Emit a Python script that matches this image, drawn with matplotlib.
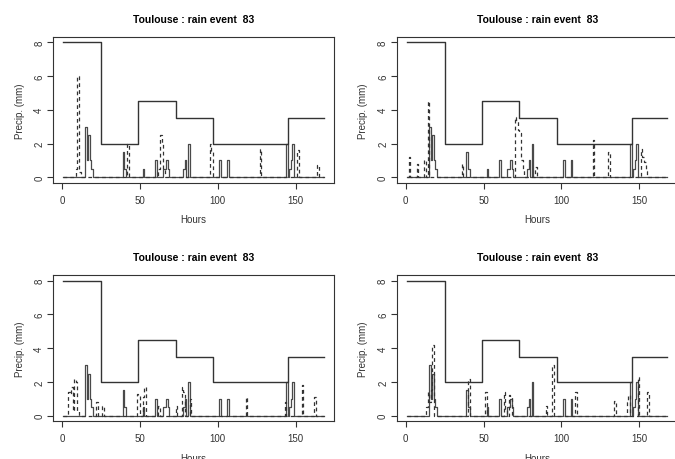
import numpy as np
import matplotlib.pyplot as plt

plt.rcParams['font.family'] = ['Liberation Sans', 'DejaVu Sans']

# daily totals (mm), one value per day, held for 24 hours each
day_vals = [8, 2, 4.5, 3.5, 2, 2, 3.5]

# observed hourly rain (only the wet hours)
obs_hours = [15, 16, 17, 18, 19, 39, 40, 52, 60, 65, 66, 67, 68, 78, 79, 81,
             101, 106, 144, 146, 147, 148]
obs_vals = [3.0, 1.0, 2.5, 1.0, 0.5, 1.5, 0.5, 0.5, 1.0, 0.5, 0.5, 1.0, 0.5,
            0.5, 1.0, 2.0, 1.0, 1.0, 2.0, 0.5, 1.0, 2.0]

# disaggregated (simulated) hourly rain, one per panel
sim1_hours = [9, 10, 11, 42, 62, 63, 64, 65, 95, 96, 127, 151, 164]
sim1_vals = [0.5, 6.0, 0.3, 2.0, 0.5, 2.5, 2.0, 0.5, 2.0, 1.5, 1.7, 1.6, 0.7]

sim2_hours = [2, 7, 12, 14, 36, 70, 71, 72, 73, 74, 75, 83, 120, 130,
              151, 152, 153, 154]
sim2_vals = [1.2, 0.8, 1.0, 4.5, 0.8, 3.6, 3.4, 2.8, 2.6, 1.0, 0.5, 0.6, 2.2,
             1.5, 1.7, 1.2, 0.9, 0.4]

sim3_hours = [4, 5, 6, 7, 8, 9, 10, 22, 26, 48, 49, 52, 53, 62, 73, 77, 78,
              82, 118, 143, 154, 162]
sim3_vals = [1.4, 1.3, 1.7, 0.3, 2.2, 2.0, 0.3, 0.8, 0.6, 1.3, 1.2, 1.1, 1.7,
             0.6, 0.6, 1.7, 1.4, 1.0, 1.1, 0.8, 1.8, 1.1]

sim4_hours = [13, 14, 15, 16, 17, 40, 51, 63, 64, 66, 67, 90, 94, 109, 134,
              142, 143, 149, 155]
sim4_vals = [0.5, 1.4, 0.8, 1.5, 4.2, 2.2, 1.4, 1.4, 0.4, 1.2, 1.1, 0.6, 3.0,
             1.4, 0.9, 0.8, 1.2, 2.3, 1.4]

hours = np.arange(1, 169)


def hourly(h, v):
    s = np.zeros(len(hours))
    s[np.array(h) - 1] = v
    return s


daily = np.repeat(day_vals, 24)
obs = hourly(obs_hours, obs_vals)
sims = [hourly(sim1_hours, sim1_vals), hourly(sim2_hours, sim2_vals),
        hourly(sim3_hours, sim3_vals), hourly(sim4_hours, sim4_vals)]

fig = plt.figure(figsize=(6.75, 4.6), dpi=100)
fig.patch.set_facecolor('white')

# axes boxes in figure fractions (left, bottom)
w, h = 0.4163, 0.317
positions = [(0.0785, 0.6007), (0.5879, 0.6007), (0.0785, 0.0824), (0.5879, 0.0824)]

for (l, b), sim in zip(positions, sims):
    ax = fig.add_axes([l, b, w, h])
    ax.step(hours, obs, where='post', color='#4a4a4a', lw=0.9)
    ax.step(hours, sim, where='post', color='#333333', lw=0.9,
            linestyle=(0, (3, 2.5)))
    ax.step(hours, daily, where='post', color='#333333', lw=1.0)

    ax.set_xlim(-5.7, 174.7)
    ax.set_ylim(-0.32, 8.32)
    ax.set_xticks([0, 50, 100, 150])
    ax.set_yticks([0, 2, 4, 6, 8])
    ax.tick_params(axis='both', direction='out', length=4.3, width=0.8,
                   labelsize=7, colors='#333333')
    ax.tick_params(axis='x', pad=4.3)
    ax.tick_params(axis='y', pad=2)
    for t in ax.get_yticklabels():
        t.set_rotation(90)
        t.set_va('center')
    for sp in ax.spines.values():
        sp.set_color('#333333')
        sp.set_linewidth(0.8)

    ax.set_title('Toulouse : rain event  83', fontsize=7.5, fontweight='bold',
                 pad=11)
    ax.set_xlabel('Hours', fontsize=7, labelpad=7, color='#333333')
    ax.set_ylabel('Precip. (mm)', fontsize=7, labelpad=7, color='#333333')

fig.savefig('out.png', dpi=100, facecolor='white')
